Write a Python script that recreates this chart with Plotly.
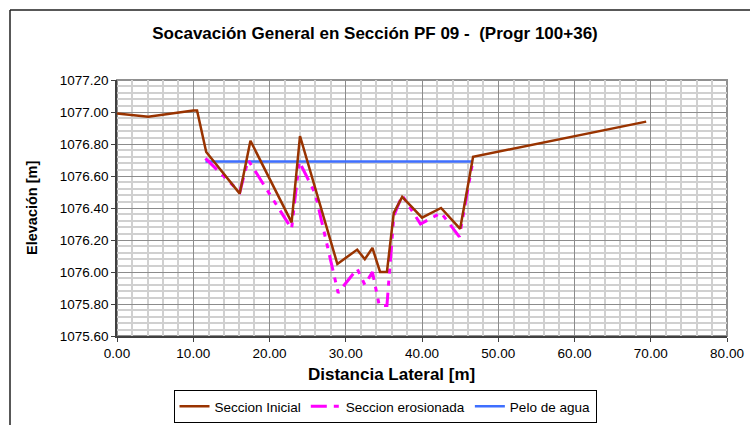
import plotly.graph_objects as go

# ---- data ----
inicial_x = [0.0, 4.1, 10.0, 10.5, 11.7, 16.1, 17.5, 22.9, 24.0, 26.0, 28.9, 31.5, 32.5,
             33.5, 34.5, 35.4, 36.3, 37.4, 40.0, 42.5, 45.0, 46.7, 69.4]
inicial_y = [1076.99, 1076.97, 1077.01, 1077.01, 1076.75, 1076.49, 1076.82, 1076.31, 1076.85,
             1076.53, 1076.05, 1076.14, 1076.08, 1076.15, 1076.00, 1076.00, 1076.37, 1076.47,
             1076.34, 1076.40, 1076.27, 1076.72, 1076.94]

erosion_x = [11.6, 16.1, 17.2, 22.9, 23.9, 26.0, 29.0, 31.5, 32.5, 33.5, 34.4, 35.4, 36.3,
             37.4, 39.8, 42.5, 44.9, 46.7]
erosion_y = [1076.71, 1076.50, 1076.70, 1076.27, 1076.69, 1076.49, 1075.87, 1076.02, 1075.92,
             1076.00, 1075.79, 1075.79, 1076.35, 1076.48, 1076.30, 1076.37, 1076.22, 1076.70]

agua_x = [11.6, 46.7]
agua_y = [1076.69, 1076.69]

names = ["Seccion Inicial", "Seccion erosionada", "Pelo de agua"]
title_text = "Socavación General en Sección PF 09 -  (Progr 100+36)"
x_title = "Distancia Lateral [m]"
y_title = "Elevación [m]"

FONT = "Liberation Sans, Arial, sans-serif"

# figure fills the page (body margin removed below)
W, H = 750, 425
# plot area in page pixels: x 117..727, y 80..336
L, R, T, B = 117, 727, 80, 336

def px(x):  # page pixel -> paper x
    return (x - L) / (R - L)
def py(y):  # page pixel -> paper y
    return (B - y) / (B - T)

fig = go.Figure()
fig.add_trace(go.Scatter(x=agua_x, y=agua_y, mode="lines", name=names[2],
                         line=dict(color="#3F6FFF", width=2.5)))
fig.add_trace(go.Scatter(x=erosion_x, y=erosion_y, mode="lines", name=names[1],
                         line=dict(color="#FF00FF", width=3,
                                   dash="16px,7px,5px,7px,5px,7px")))
fig.add_trace(go.Scatter(x=inicial_x, y=inicial_y, mode="lines", name=names[0],
                         line=dict(color="#993300", width=2.5)))

fig.update_layout(
    width=W, height=H,
    margin=dict(l=L, r=W - R, t=T, b=H - B, autoexpand=False),
    paper_bgcolor="white", plot_bgcolor="white",
    font=dict(family=FONT, size=13, color="black"),
    title=dict(text="<b>" + title_text + "</b>", x=px(375), xanchor="center",
               xref="paper", y=1 - 33 / H, yanchor="middle",
               font=dict(family=FONT, size=17, color="black")),
    showlegend=True,
    legend=dict(orientation="h", traceorder="reversed",
                x=px(385), xanchor="center", y=py(390), yanchor="top",
                bordercolor="black", borderwidth=1, bgcolor="white",
                font=dict(family=FONT, size=13.5, color="black"),
                itemwidth=30, tracegroupgap=0),
)

tickfont = dict(size=13.5, family=FONT, color="black")
fig.update_xaxes(range=[0, 80], dtick=10, tick0=0, tickformat=".2f",
                 ticklabeloverflow="allow",
                 showgrid=True, gridcolor="#8C8C8C", gridwidth=1,
                 minor=dict(dtick=2, showgrid=True, gridcolor="#D0D0D0", gridwidth=1.5),
                 showline=True, linecolor="#404040", linewidth=1.5,
                 ticks="outside", ticklen=4, tickcolor="#404040",
                 zeroline=False, tickfont=tickfont)
fig.update_yaxes(range=[1075.6, 1077.2], dtick=0.2, tick0=1075.6, tickformat=".2f",
                 ticklabeloverflow="allow",
                 showgrid=True, gridcolor="#8C8C8C", gridwidth=1,
                 minor=dict(dtick=0.04, showgrid=True, gridcolor="#D0D0D0", gridwidth=1.5),
                 showline=True, linecolor="#404040", linewidth=1.5,
                 ticks="outside", ticklen=4, tickcolor="#404040",
                 zeroline=False, tickfont=tickfont)

# gray plot-area border (top/right)
fig.add_shape(type="rect", xref="paper", yref="paper", x0=0, y0=0, x1=1, y1=1,
              line=dict(color="#909090", width=2), layer="below")
# outer chart frame (left and top edges visible)
fig.add_shape(type="line", xref="paper", yref="paper",
              x0=px(10), y0=py(10), x1=px(760), y1=py(10),
              line=dict(color="#202020", width=1.5))
fig.add_shape(type="line", xref="paper", yref="paper",
              x0=px(10), y0=py(10), x1=px(10), y1=py(440),
              line=dict(color="#202020", width=1.5))

# axis titles
fig.add_annotation(text="<b>" + x_title + "</b>", xref="paper", yref="paper",
                   x=px(391), y=py(374), xanchor="center", yanchor="middle",
                   showarrow=False, font=dict(family=FONT, size=17, color="black"))
fig.add_annotation(text="<b>" + y_title + "</b>", xref="paper", yref="paper",
                   x=px(32), y=py(208), xanchor="center", yanchor="middle",
                   textangle=-90, showarrow=False,
                   font=dict(family=FONT, size=14.5, color="black"))

fig.write_html("out.html",
               config={"displayModeBar": False},
               post_script="document.body.style.margin='0';"
                           "document.body.style.overflow='hidden';")
